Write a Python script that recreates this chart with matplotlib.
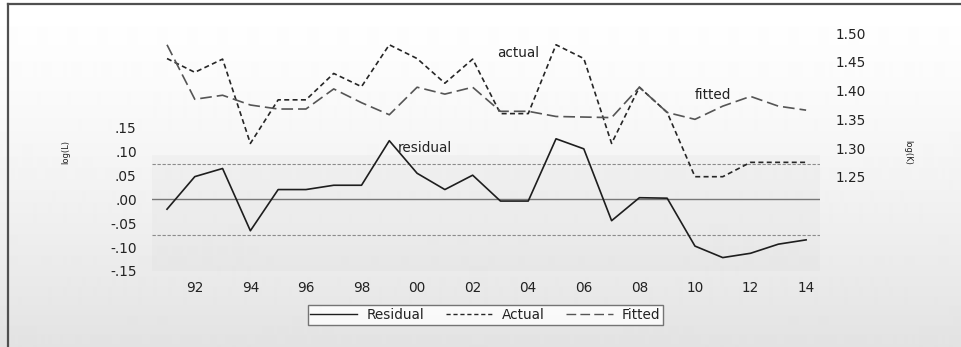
import numpy as np
import matplotlib
matplotlib.use("Agg")
import matplotlib.pyplot as plt
from matplotlib.lines import Line2D

plt.rcParams['font.family'] = ['DejaVu Sans']

# annual observations, 1991-2014
years = np.arange(1991, 2015)
actual = [1.456, 1.432, 1.455, 1.308, 1.384, 1.384, 1.430, 1.407, 1.480, 1.456,
          1.413, 1.455, 1.360, 1.360, 1.480, 1.456, 1.308, 1.406, 1.362, 1.250,
          1.250, 1.275, 1.275, 1.275]
fitted = [1.480, 1.385, 1.392, 1.375, 1.368, 1.368, 1.403, 1.379, 1.358, 1.406,
          1.394, 1.406, 1.364, 1.364, 1.355, 1.354, 1.353, 1.406, 1.362, 1.350,
          1.373, 1.390, 1.373, 1.366]
residual = [-0.021, 0.047, 0.064, -0.066, 0.020, 0.020, 0.029, 0.029, 0.122, 0.054,
            0.020, 0.050, -0.004, -0.004, 0.126, 0.105, -0.045, 0.003, 0.002, -0.098,
            -0.122, -0.113, -0.094, -0.085]
resid_sd = 0.074

year_ticks = [1992, 1994, 1996, 1998, 2000, 2002, 2004, 2006, 2008, 2010, 2012, 2014]
year_labels = ['92', '94', '96', '98', '00', '02', '04', '06', '08', '10', '12', '14']
resid_ticks = [-0.15, -0.10, -0.05, 0.00, 0.05, 0.10, 0.15]
resid_labels = ['-.15', '-.10', '-.05', '.00', '.05', '.10', '.15']
level_ticks = [1.25, 1.30, 1.35, 1.40, 1.45, 1.50]
level_labels = ['1.25', '1.30', '1.35', '1.40', '1.45', '1.50']

W, H = 961, 347
FS = 9.8
TXT = '#222222'

fig = plt.figure(figsize=(W / 100, H / 100), dpi=100)

# soft vertical gradient behind everything
bg = fig.add_axes([0, 0, 1, 1], zorder=-10)
bg.axis('off')
rows = np.linspace(0, 1, H)
shade = 1.0 - 0.11 * rows ** 1.3
bg.imshow(shade.reshape(-1, 1), cmap='gray', vmin=0, vmax=1, aspect='auto',
          extent=[0, 1, 0, 1], interpolation='bilinear')
bg.set_xlim(0, 1)
bg.set_ylim(0, 1)

# frame lines (left and top)
fig.add_artist(Line2D([8 / W, 8 / W], [0, 1 - 4 / H], transform=fig.transFigure,
                      color='#505050', lw=1.6))
fig.add_artist(Line2D([8 / W, 1], [1 - 4 / H, 1 - 4 / H], transform=fig.transFigure,
                      color='#505050', lw=1.6))

left, right, top, bottom = 152, 820, 20, 271
ax = fig.add_axes([left / W, 1 - bottom / H, (right - left) / W, (bottom - top) / H])
ax.set_facecolor('none')

# faint band under the residual part of the plot
ax.axhspan(-0.15, 0.092, color='#d0d0d0', alpha=0.12, lw=0, zorder=0)

ax.axhline(0, color='#777777', lw=1.0, zorder=1)
ax.axhline(resid_sd, color='#8c8c8c', lw=0.8, ls=(0, (3, 1.5)), zorder=1)
ax.axhline(-resid_sd, color='#8c8c8c', lw=0.8, ls=(0, (3, 1.5)), zorder=1)

ax.plot(years, residual, color='#1e1e1e', lw=1.2, zorder=3)

ax.set_xlim(1990.46, 2014.5)
ax.set_ylim(-0.15, (199.5 - top) / 480.0)
ax.set_xticks(year_ticks)
ax.set_xticklabels(year_labels)
ax.set_yticks(resid_ticks)
ax.set_yticklabels(resid_labels)
ax.tick_params(axis='both', length=0, labelsize=FS, colors=TXT)
ax.tick_params(axis='y', pad=11)
ax.tick_params(axis='x', pad=7)
for s in ax.spines.values():
    s.set_visible(False)

ax.text(1999.32, 0.106, 'residual', fontsize=FS, color=TXT, ha='left', va='center')

ax2 = ax.twinx()
ax2.patch.set_visible(False)
ax2.plot(years, actual, color='#262626', lw=1.2, ls=(0, (3, 2)), zorder=3)
ax2.plot(years, fitted, color='#555555', lw=1.2, ls=(0, (7, 3)), zorder=3)
px_per_unit = 573.6
ax2.set_ylim(1.25 - (bottom - 176.7) / px_per_unit, 1.50 + (33.3 - top) / px_per_unit)
ax2.set_yticks(level_ticks)
ax2.set_yticklabels(level_labels)
ax2.tick_params(axis='y', length=0, labelsize=FS, colors=TXT, pad=11)
for s in ax2.spines.values():
    s.set_visible(False)

ax2.text(2002.88, 1.466, 'actual', fontsize=FS, color=TXT, ha='left', va='center')
ax2.text(2010.0, 1.392, 'fitted', fontsize=FS, color=TXT, ha='left', va='center')

# tiny axis titles
fig.text(66 / W, 1 - 152 / H, 'log(L)', rotation=90, fontsize=6, color=TXT,
         ha='center', va='center')
fig.text(908 / W, 1 - 152 / H, 'log(K)', rotation=-90, fontsize=6, color=TXT,
         ha='center', va='center')

handles = [
    Line2D([], [], color='#1e1e1e', lw=1.0),
    Line2D([], [], color='#262626', lw=1.0, ls=(0, (3, 2))),
    Line2D([], [], color='#555555', lw=1.0, ls=(0, (7, 3))),
]
leg = fig.legend(handles, ['Residual', 'Actual', 'Fitted'], ncol=3,
                 loc='center', bbox_to_anchor=(485.5 / W, 1 - 315 / H),
                 fontsize=FS, frameon=True, fancybox=False, handlelength=3.4,
                 handletextpad=0.7, columnspacing=1.6, borderpad=0.2,
                 borderaxespad=0)
leg.get_frame().set_edgecolor('#555555')
leg.get_frame().set_linewidth(1.0)
leg.get_frame().set_facecolor('white')
for t in leg.get_texts():
    t.set_color(TXT)

fig.savefig('out.png', dpi=100)
